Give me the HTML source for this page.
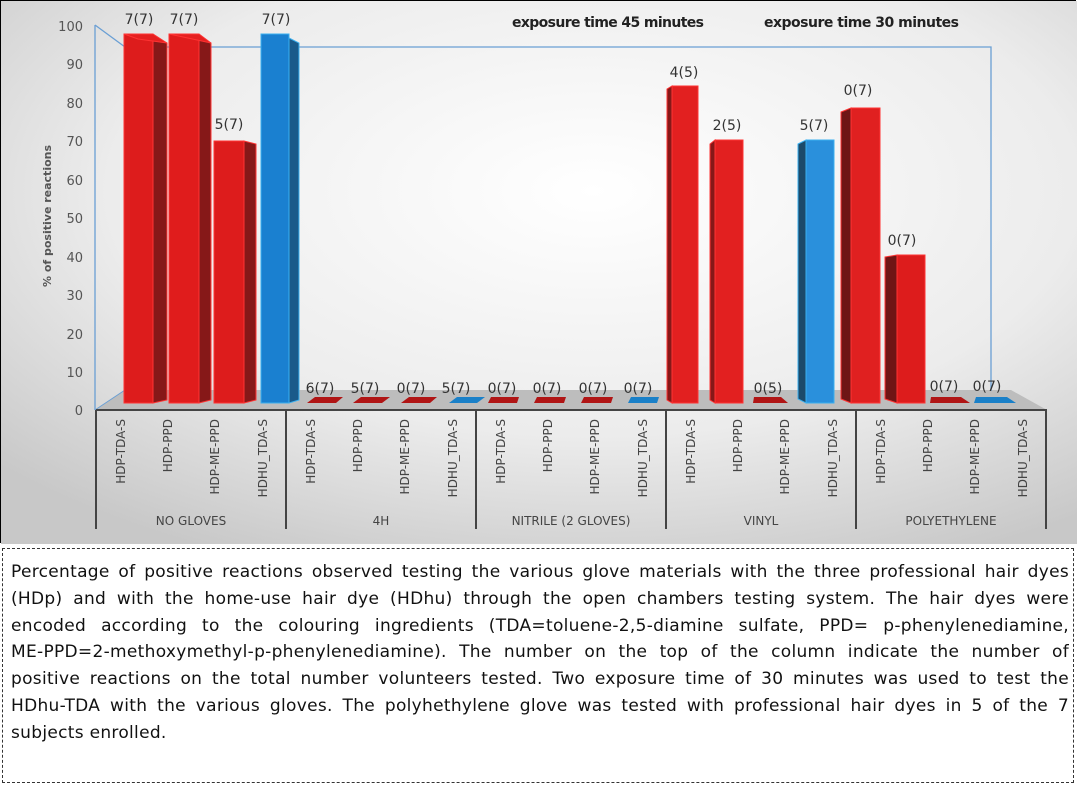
<!DOCTYPE html>
<html><head><meta charset="utf-8"><style>
body{margin:0;width:1078px;height:785px;background:#fff;overflow:hidden;font-family:"Liberation Sans",sans-serif}
#chart{position:absolute;left:0;top:0;width:1076px;height:543px;border:1px solid #000;box-sizing:border-box}
#cap{position:absolute;left:2px;top:548px;width:1072px;height:235px;border:1px dashed #333;box-sizing:border-box;padding:10px 4px 0 8px;font-family:"DejaVu Sans",sans-serif;font-size:17px;letter-spacing:0.3px;line-height:26.8px;color:#111}
#cap div{text-align:justify;text-align-last:justify;height:26.8px;overflow:hidden}
#cap div.l{text-align-last:left}
</style></head><body>
<div id="chart">
<svg width="1076" height="543" viewBox="0 0 1076 543" xmlns="http://www.w3.org/2000/svg" font-family="DejaVu Sans, sans-serif">
<defs>
<radialGradient id="bg" cx="0.55" cy="0.35" r="0.75"><stop offset="0" stop-color="#ffffff"/><stop offset="0.6" stop-color="#ececec"/><stop offset="1" stop-color="#c8c8c8"/></radialGradient>
</defs>
<rect x="0" y="0" width="1076" height="543" fill="url(#bg)"/>
<polygon points="95,409 124,389 1010,389 1046,409" fill="#bdbdbd"/>
<polyline points="94,24 124,46 990,46 990,390" fill="none" stroke="#6a9fd4" stroke-width="1.3"/>
<line x1="94" y1="24" x2="94" y2="409" stroke="#6a9fd4" stroke-width="1.3"/>
<line x1="94" y1="409" x2="124" y2="389" stroke="#6a9fd4" stroke-width="1"/>
<g font-size="13" fill="#555" text-anchor="end">
<text x="82" y="30">100</text><text x="82" y="68">90</text><text x="82" y="107">80</text><text x="82" y="145">70</text><text x="82" y="184">60</text><text x="82" y="222">50</text><text x="82" y="261">40</text><text x="82" y="299">30</text><text x="82" y="338">20</text><text x="82" y="376">10</text><text x="82" y="414">0</text>
</g>
<text transform="translate(50,215) rotate(-90)" font-size="11" font-weight="bold" fill="#555" text-anchor="middle">% of positive reactions</text>
<text x="511" y="26" font-size="14" font-weight="bold" fill="#222" textLength="192">exposure time 45 minutes</text>
<text x="763" y="26" font-size="14" font-weight="bold" fill="#222" textLength="195">exposure time 30 minutes</text>
<g stroke="#f33" stroke-width="1">
<polygon points="152,37 166,42 166,399 152,402" fill="#861818"/><rect x="123" y="33" width="29" height="369" fill="#dd1c1c"/><polygon points="123,33 152,33 166,42 137,38" fill="#e52020"/>
<polygon points="198,37 210,42 210,399 198,402" fill="#861818"/><rect x="168" y="33" width="30" height="369" fill="#e01c1c"/><polygon points="168,33 198,33 210,42" fill="#e52020"/>
<polygon points="243,140 255,143 255,399 243,402" fill="#861818"/><rect x="213" y="140" width="30" height="262" fill="#dd1c1c"/>
<polygon points="709,143 714,139 714,402 709,399" fill="#861818"/><rect x="714" y="139" width="28" height="263" fill="#e22020"/>
<polygon points="666,88 671,85 671,402 666,399" fill="#861818"/><rect x="671" y="85" width="26" height="317" fill="#e22020"/>
<polygon points="840,111 850,107 850,402 840,398" fill="#6e1515"/><rect x="850" y="107" width="29" height="295" fill="#e02020"/>
<polygon points="884,256 896,254 896,402 884,398" fill="#6e1515"/><rect x="896" y="254" width="28" height="148" fill="#dd1c1c"/>
</g>
<g stroke="#3ab0f0" stroke-width="1">
<polygon points="288,37 298,42 298,399 288,402" fill="#1a5a8a"/><rect x="260" y="33" width="28" height="369" fill="#1a80d0"/>
<polygon points="797,143 805,139 805,402 797,398" fill="#1c4a6a"/><rect x="805" y="139" width="28" height="263" fill="#2a90dc"/>
</g>
<g fill="#b01515">
<polygon points="306,402 335,402 342,396 314,396"/><polygon points="352,402 381,402 389,396 360,396"/><polygon points="400,402 429,402 436,396 408,396"/>
<polygon points="487,402 516,402 518,396 490,396"/><polygon points="533,402 563,402 565,396 536,396"/><polygon points="580,402 610,402 612,396 583,396"/>
<polygon points="752,402 787,402 780,396 753,396"/><polygon points="929,402 969,402 960,396 930,396"/>
</g>
<g fill="#1a80c8"><polygon points="448,402 476,402 484,396 456,396"/><polygon points="627,402 656,402 658,396 630,396"/><polygon points="973,402 1015,402 1006,396 975,396"/></g>
<g font-size="14" fill="#333" text-anchor="middle">
<text x="138" y="23">7(7)</text><text x="183" y="23">7(7)</text><text x="228" y="128">5(7)</text><text x="275" y="23">7(7)</text>
<text x="319" y="392">6(7)</text><text x="364" y="392">5(7)</text><text x="410" y="392">0(7)</text><text x="455" y="392">5(7)</text>
<text x="501" y="392">0(7)</text><text x="546" y="392">0(7)</text><text x="592" y="392">0(7)</text><text x="637" y="392">0(7)</text>
<text x="683" y="76">4(5)</text><text x="726" y="129">2(5)</text><text x="767" y="392">0(5)</text><text x="813" y="129">5(7)</text>
<text x="857" y="94">0(7)</text><text x="901" y="244">0(7)</text><text x="943" y="390">0(7)</text><text x="986" y="390">0(7)</text>
</g>
<g stroke="#444" stroke-width="2">
<line x1="95" y1="409" x2="1046" y2="409"/>
<line x1="95" y1="409" x2="95" y2="528"/><line x1="285" y1="409" x2="285" y2="528"/><line x1="475" y1="409" x2="475" y2="528"/><line x1="665" y1="409" x2="665" y2="528"/><line x1="855" y1="409" x2="855" y2="528"/><line x1="1045" y1="409" x2="1045" y2="528"/>
</g>
<g font-size="12" fill="#444" text-anchor="end">
<text transform="translate(124,418) rotate(-90)">HDP-TDA-S</text><text transform="translate(171,418) rotate(-90)">HDP-PPD</text><text transform="translate(218,418) rotate(-90)">HDP-ME-PPD</text><text transform="translate(266,418) rotate(-90)">HDHU_TDA-S</text>
<text transform="translate(314,418) rotate(-90)">HDP-TDA-S</text><text transform="translate(361,418) rotate(-90)">HDP-PPD</text><text transform="translate(408,418) rotate(-90)">HDP-ME-PPD</text><text transform="translate(456,418) rotate(-90)">HDHU_TDA-S</text>
<text transform="translate(504,418) rotate(-90)">HDP-TDA-S</text><text transform="translate(551,418) rotate(-90)">HDP-PPD</text><text transform="translate(598,418) rotate(-90)">HDP-ME-PPD</text><text transform="translate(646,418) rotate(-90)">HDHU_TDA-S</text>
<text transform="translate(694,418) rotate(-90)">HDP-TDA-S</text><text transform="translate(741,418) rotate(-90)">HDP-PPD</text><text transform="translate(788,418) rotate(-90)">HDP-ME-PPD</text><text transform="translate(836,418) rotate(-90)">HDHU_TDA-S</text>
<text transform="translate(884,418) rotate(-90)">HDP-TDA-S</text><text transform="translate(931,418) rotate(-90)">HDP-PPD</text><text transform="translate(978,418) rotate(-90)">HDP-ME-PPD</text><text transform="translate(1026,418) rotate(-90)">HDHU_TDA-S</text>
</g>
<g font-size="12" fill="#444" text-anchor="middle">
<text x="190" y="524">NO GLOVES</text><text x="380" y="524">4H</text><text x="570" y="524">NITRILE (2 GLOVES)</text><text x="760" y="524">VINYL</text><text x="950" y="524">POLYETHYLENE</text>
</g>
</svg>
</div>
<div id="cap">
<div>Percentage of positive reactions observed testing the various glove materials with the three professional hair dyes</div>
<div>(HDp) and with the home-use hair dye (HDhu) through the open chambers testing system. The hair dyes were</div>
<div>encoded according to the colouring ingredients (TDA=toluene-2,5-diamine sulfate, PPD= p-phenylenediamine,</div>
<div>ME-PPD=2-methoxymethyl-p-phenylenediamine). The number on the top of the column indicate the number of</div>
<div>positive reactions on the total number volunteers tested. Two exposure time of 30 minutes was used to test the</div>
<div>HDhu-TDA with the various gloves. The polyhethylene glove was tested with professional hair dyes in 5 of the 7</div>
<div class="l">subjects enrolled.</div>
</div>
</body></html>
